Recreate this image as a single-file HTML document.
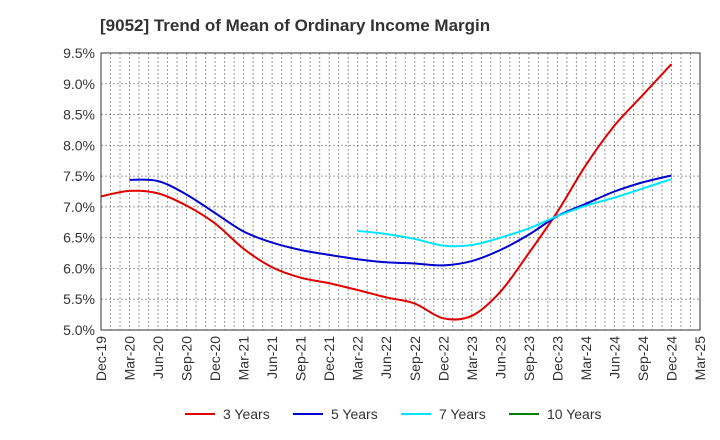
<!DOCTYPE html>
<html><head><meta charset="utf-8"><style>
body{margin:0;background:#fff;font-family:"Liberation Sans",sans-serif;}
svg{display:block}
</style></head><body>
<svg id="chart" width="720" height="440" font-family="Liberation Sans, sans-serif">
<text x="100" y="31" font-size="17" font-weight="bold" fill="#333">[9052]  Trend of Mean of Ordinary Income Margin</text>
<g id="grid"></g><g id="axes"></g><g id="series"></g><g id="legend"></g>
</svg>
<script>
const xLabels=["Dec-19","Mar-20","Jun-20","Sep-20","Dec-20","Mar-21","Jun-21","Sep-21","Dec-21","Mar-22","Jun-22","Sep-22","Dec-22","Mar-23","Jun-23","Sep-23","Dec-23","Mar-24","Jun-24","Sep-24","Dec-24","Mar-25"];
const yTicks=[5.0,5.5,6.0,6.5,7.0,7.5,8.0,8.5,9.0,9.5];
const s3=[7.17,7.26,7.22,7.02,6.73,6.32,6.02,5.85,5.76,5.65,5.53,5.43,5.19,5.23,5.62,6.25,6.92,7.68,8.32,8.82,9.32];
const s5=[null,7.44,7.42,7.2,6.9,6.6,6.42,6.3,6.22,6.15,6.1,6.08,6.05,6.12,6.3,6.55,6.85,7.05,7.25,7.4,7.51];
const s7=[null,null,null,null,null,null,null,null,null,6.61,6.56,6.48,6.37,6.38,6.5,6.65,6.85,7.02,7.15,7.3,7.45];
const s10=[];
const NS="http://www.w3.org/2000/svg";
const L=101,R=700,T=53,B=330;
const x=i=>L+(R-L)*i/21;
const y=v=>B-(v-5)/4.5*(B-T);
function mk(t,a,p){const e=document.createElementNS(NS,t);for(const k in a)e.setAttribute(k,a[k]);p.appendChild(e);return e;}
const g=document.getElementById('grid'),ax=document.getElementById('axes'),se=document.getElementById('series'),lg=document.getElementById('legend');
for(let m=1;m<63;m++){const xx=L+(R-L)*m/63;const ln=mk('line',{x1:xx,x2:xx,y1:T,y2:B,stroke:'#999','stroke-dasharray':'2,2','stroke-width':1},g);

}
yTicks.forEach(v=>{const yy=y(v);const ln=mk('line',{x1:L,x2:R,y1:yy,y2:yy,stroke:'#999','stroke-dasharray':'2,2'},g);


const t=mk('text',{x:L-6,y:yy+5,'font-size':14,'text-anchor':'end',fill:'#333'},ax);t.textContent=v.toFixed(1)+'%';

});
const fr=mk('rect',{x:L,y:T,width:R-L,height:B-T,fill:'none',stroke:'#333'},ax);


xLabels.forEach((s,i)=>{const xx=x(i);const t=mk('text',{transform:`translate(${xx+5},${B+6}) rotate(-90)`,'font-size':14,'text-anchor':'end',fill:'#333'},ax);t.textContent=s;

});
function path(arr){const p=[];arr.forEach((v,i)=>{if(v!=null)p.push([x(i),y(v)]);});if(p.length<2)return '';
let d=`M${p[0][0]},${p[0][1]}`;for(let i=0;i<p.length-1;i++){const p0=p[i-1]||p[i],p1=p[i],p2=p[i+1],p3=p[i+2]||p2;
d+=` C${p1[0]+(p2[0]-p0[0])/6},${p1[1]+(p2[1]-p0[1])/6} ${p2[0]-(p3[0]-p1[0])/6},${p2[1]-(p3[1]-p1[1])/6} ${p2[0]},${p2[1]}`;}return d;}
const series=[[s3,'#e00000','3 Years'],[s5,'#0000d0','5 Years'],[s7,'#00e5ff','7 Years'],[s10,'#008000','10 Years']];
series.forEach((s,k)=>{const d=path(s[0]);if(d){const p=mk('path',{d,fill:'none',stroke:s[1],'stroke-width':2},se);

}
const lx=185+k*108;const ln=mk('line',{x1:lx,x2:lx+30,y1:414,y2:414,stroke:s[1],'stroke-width':2},lg);


const t=mk('text',{x:lx+38,y:419,'font-size':14,fill:'#333'},lg);t.textContent=s[2];

});
</script>
</body></html>
